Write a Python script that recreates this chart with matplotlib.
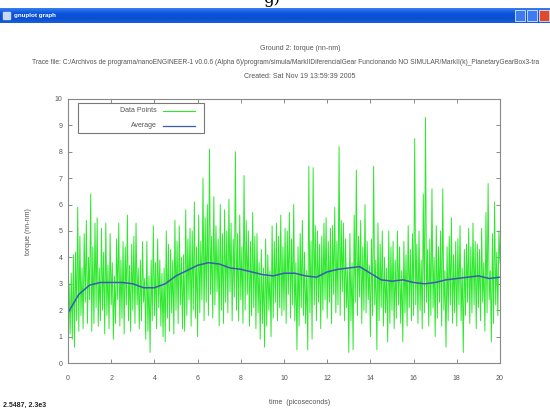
import numpy as np
import matplotlib
matplotlib.use('Agg')
import matplotlib.pyplot as plt
from matplotlib.patches import Rectangle

plt.rcParams['font.family'] = ['Liberation Sans', 'DejaVu Sans']

# torque trace, every 0.05 ps (0 .. 20 ps), one row per ps
torque = [
    1.9, 3.0, 1.1, 3.4, 0.9, 4.1, 0.6, 4.2, 1.6, 5.9, 1.2, 4.8, 1.8, 3.6, 1.3, 4.9, 2.3, 5.4, 1.5, 4.0,
    2.4, 6.4, 1.2, 4.4, 1.5, 5.3, 2.1, 5.5, 1.4, 3.6, 1.6, 5.1, 2.0, 4.2, 1.1, 5.3, 1.8, 3.7, 1.3, 4.9,
    2.2, 3.8, 0.9, 3.3, 1.5, 4.7, 2.4, 5.3, 1.4, 3.9, 1.7, 4.6, 1.1, 4.4, 2.2, 5.6, 1.6, 3.7, 1.2, 4.5,
    2.0, 4.8, 1.5, 5.3, 2.2, 3.6, 1.3, 3.9, 1.6, 4.6, 2.3, 3.2, 0.9, 4.6, 1.2, 3.3, 0.4, 3.9, 1.6, 5.2,
    1.8, 3.8, 1.3, 4.7, 2.1, 3.9, 1.4, 3.4, 1.0, 3.6, 0.8, 5.0, 1.7, 4.5, 1.2, 4.3, 1.9, 3.9, 1.1, 5.4,
    2.0, 4.6, 1.5, 5.2, 2.2, 4.0, 1.3, 4.1, 1.2, 5.8, 1.8, 4.7, 2.4, 5.1, 1.4, 5.0, 2.0, 6.1, 1.7, 4.4,
    1.0, 5.6, 1.9, 4.6, 2.4, 7.0, 1.6, 5.5, 2.3, 6.0, 1.8, 8.1, 2.6, 4.8, 1.7, 6.3, 2.2, 5.2, 2.7, 4.7,
    1.4, 6.0, 2.0, 4.9, 1.5, 5.8, 2.3, 5.0, 1.9, 6.2, 2.7, 5.3, 1.6, 4.7, 2.5, 8.0, 2.0, 4.9, 1.6, 5.6,
    2.4, 4.4, 1.5, 7.1, 2.0, 5.4, 2.6, 5.0, 1.4, 4.6, 1.8, 5.7, 2.1, 4.8, 1.3, 4.9, 1.9, 3.8, 0.9, 4.3,
    1.5, 3.6, 0.6, 4.7, 1.4, 4.1, 2.0, 3.5, 1.0, 5.2, 1.7, 4.6, 2.3, 5.3, 1.6, 4.8, 2.1, 5.6, 1.8, 4.4,
    2.0, 5.1, 1.5, 5.0, 2.6, 5.7, 1.7, 4.7, 2.2, 6.0, 1.6, 3.8, 0.5, 4.4, 1.4, 4.9, 2.1, 5.4, 1.8, 4.2,
    1.5, 3.5, 0.5, 7.45, 1.9, 4.6, 0.9, 7.4, 2.2, 5.2, 1.6, 5.0, 2.3, 4.5, 1.3, 4.8, 2.0, 5.3, 2.4, 5.5,
    1.7, 4.6, 2.3, 5.1, 1.5, 5.2, 2.6, 5.9, 1.9, 4.6, 2.2, 8.2, 1.8, 5.4, 2.7, 5.3, 1.6, 4.7, 2.1, 3.6,
    0.4, 4.9, 1.6, 3.8, 0.5, 5.6, 2.3, 7.3, 1.8, 4.8, 2.5, 5.4, 1.5, 4.4, 2.0, 6.0, 1.9, 4.6, 2.4, 3.7,
    1.0, 4.7, 1.8, 7.45, 2.2, 3.9, 0.5, 5.3, 1.6, 4.5, 2.1, 5.0, 1.4, 4.0, 1.9, 3.6, 0.8, 5.0, 1.5, 4.4,
    2.0, 4.6, 1.3, 3.9, 1.7, 5.0, 2.2, 4.4, 1.5, 3.5, 0.8, 4.6, 1.9, 4.1, 1.4, 5.2, 2.1, 4.3, 1.6, 4.9,
    1.8, 8.5, 2.2, 4.5, 1.5, 5.0, 2.0, 3.9, 1.3, 6.4, 1.9, 9.3, 2.3, 4.3, 1.4, 4.7, 1.8, 6.6, 2.1, 4.0,
    1.0, 5.2, 1.7, 4.4, 2.3, 5.0, 1.4, 6.6, 2.0, 3.5, 0.6, 4.4, 1.6, 4.8, 2.2, 5.5, 1.5, 4.1, 1.9, 4.6,
    1.4, 4.7, 2.2, 5.2, 1.6, 3.6, 0.4, 4.3, 1.8, 4.5, 2.3, 5.1, 1.5, 4.4, 1.9, 5.3, 2.2, 4.6, 1.3, 4.5,
    2.1, 4.3, 1.6, 5.1, 2.3, 3.8, 1.2, 5.7, 1.9, 6.8, 2.4, 3.5, 0.8, 4.9, 1.5, 6.1, 2.2, 4.2, 1.8, 5.0,
    3.8,
]
time = np.linspace(0, 20, len(torque))

# running average, read every 0.5 ps
average = [
    1.9, 2.6, 2.95, 3.05, 3.05, 3.05, 3.0, 2.85, 2.85, 3.0,
    3.3, 3.5, 3.7, 3.8, 3.75, 3.6, 3.55, 3.45, 3.35, 3.3,
    3.4, 3.4, 3.3, 3.25, 3.45, 3.55, 3.6, 3.65, 3.4, 3.15,
    3.1, 3.15, 3.05, 3.0, 3.05, 3.15, 3.2, 3.25, 3.3, 3.2,
    3.25,
]
avg_time = np.linspace(0, 20, len(average))

xticks = list(range(0, 21, 2))
yticks = list(range(0, 11))

fig = plt.figure(figsize=(5.5, 4.08), dpi=100)
fig.patch.set_facecolor('white')

# window title bar
bar = fig.add_axes([0, 1 - 23 / 408, 1, 15 / 408])
grad = np.linspace(0, 1, 50).reshape(-1, 1)
bar.imshow(grad, aspect='auto', cmap=matplotlib.colors.LinearSegmentedColormap.from_list(
    'xp', ['#3a7ff0', '#0a56dc', '#0a4fd0', '#1a5ee0']), extent=[0, 550, 0, 15])
bar.set_xlim(0, 550)
bar.set_ylim(0, 15)
bar.axis('off')
bar.add_patch(Rectangle((3, 4), 7, 7, color='#c8d8f0'))
bar.text(14, 7.5, 'gnuplot graph', color='white', fontsize=4.5, fontweight='bold', va='center')
bar.add_patch(Rectangle((515, 2), 10, 11, color='#3c7cf0', ec='white', lw=0.5))
bar.add_patch(Rectangle((527, 2), 10, 11, color='#3c7cf0', ec='white', lw=0.5))
bar.add_patch(Rectangle((539, 2), 10, 11, color='#e04a2a', ec='white', lw=0.5))
fig.text(272 / 550, 1.004, 'g)', ha='center', va='center', fontsize=12, family='DejaVu Serif')

# header text
tcol = '#555555'
fig.text(300 / 550, 1 - 48 / 408, 'Ground 2: torque (nn-nm)', ha='center', va='center',
         fontsize=5, color=tcol)
fig.text(32 / 550, 1 - 63 / 408,
         'Trace file: C:/Archivos de programa/nanoENGINEER-1 v0.0.6 (Alpha 6)/program/simula/'
         'MarkIIDiferencialGear Funcionando NO SIMULAR/MarkII(k)_PlanetaryGearBox3-tra',
         ha='left', va='center', fontsize=4.8, color=tcol)
fig.text(300 / 550, 1 - 77 / 408, 'Created: Sat Nov 19 13:59:39 2005', ha='center',
         va='center', fontsize=5, color=tcol)

ax = fig.add_axes([68 / 550, 1 - 363 / 408, 432 / 550, 264 / 408])
ax.plot(time, torque, color='#2ee82e', lw=0.7)
ax.plot(avg_time, average, color='#3a5cb0', lw=1.1)
ax.set_xlim(0, 20)
ax.set_ylim(0, 10)
ax.set_xticks(xticks)
ax.set_yticks(yticks)
ax.tick_params(direction='in', length=3, width=0.6, color='#777777', labelsize=5,
               labelcolor=tcol, top=True, right=True)
ax.tick_params(axis='x', pad=9)
ax.tick_params(axis='y', pad=4)
for s in ax.spines.values():
    s.set_color('#888888')
    s.set_linewidth(0.8)

# gnuplot-style key
ax.add_patch(Rectangle((0.023, 0.871), 0.292, 0.114, transform=ax.transAxes,
                       fill=True, fc='white', ec='#777777', lw=0.8, zorder=5))
ax.text(0.206, 0.955, 'Data Points', transform=ax.transAxes, ha='right', va='center',
        fontsize=5, color=tcol, zorder=6)
ax.text(0.206, 0.898, 'Average', transform=ax.transAxes, ha='right', va='center',
        fontsize=5, color=tcol, zorder=6)
ax.plot([0.22, 0.294], [0.955, 0.955], transform=ax.transAxes, color='#2ee82e', lw=0.8, zorder=6)
ax.plot([0.22, 0.294], [0.898, 0.898], transform=ax.transAxes, color='#3a5cb0', lw=0.9, zorder=6)

fig.text(300 / 550, 1 - 403 / 408, 'time  (picoseconds)', ha='center', va='center',
         fontsize=5, color=tcol)
fig.text(28 / 550, 1 - 232 / 408, 'torque (nn-nm)', ha='center', va='center',
         rotation=90, fontsize=5, color=tcol)
fig.text(3 / 550, 1 - 405 / 408, '2.5487, 2.3e3', ha='left', va='center',
         fontsize=5, color='#222222', fontweight='bold')

fig.savefig('out.png', dpi=100, facecolor='white')
